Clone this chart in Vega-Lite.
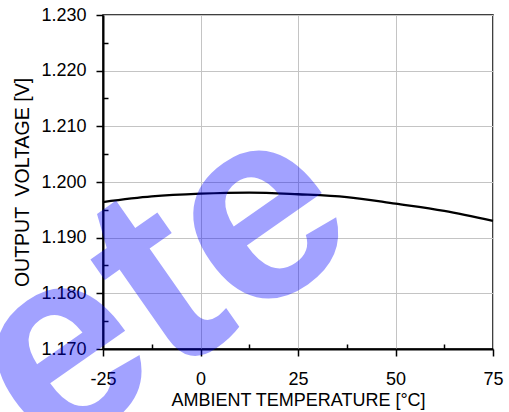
{
  "$schema": "https://vega.github.io/schema/vega-lite/v6.json",
  "width": 390,
  "height": 334,
  "autosize": {"type": "none"},
  "padding": {"left": 103, "top": 15, "right": 16, "bottom": 63},
  "background": "white",
  "config": {
    "view": {"stroke": "#000000", "strokeWidth": 1.5},
    "font": "Liberation Sans",
    "axis": {
      "labelFont": "Liberation Sans",
      "titleFont": "Liberation Sans",
      "labelColor": "#000000",
      "titleColor": "#000000",
      "titleFontWeight": "normal",
      "labelFontSize": 18,
      "titleFontSize": 18,
      "domainColor": "#000000",
      "domainWidth": 2,
      "tickColor": "#000000",
      "tickWidth": 1.5,
      "gridColor": "#c4c4c4",
      "gridWidth": 1
    }
  },
  "datasets": {
    "curve": [
      {"temp": -25, "volt": 1.1964},
      {"temp": -12.5, "volt": 1.1974},
      {"temp": 0, "volt": 1.1979},
      {"temp": 12.5, "volt": 1.1981},
      {"temp": 25, "volt": 1.1978},
      {"temp": 37.5, "volt": 1.1973},
      {"temp": 50, "volt": 1.1961},
      {"temp": 62.5, "volt": 1.1948},
      {"temp": 75, "volt": 1.1930}
    ],
    "mark": [
      {"temp": 1.5, "volt": 1.1694, "label": "ete"}
    ]
  },
  "layer": [
    {
      "data": {"name": "curve"},
      "mark": {"type": "line", "color": "#000000", "strokeWidth": 2.3, "interpolate": "monotone"},
      "encoding": {
        "x": {
          "field": "temp", "type": "quantitative",
          "scale": {"domain": [-25, 75], "nice": false, "zero": false},
          "axis": {
            "orient": "bottom",
            "values": [-25, 0, 25, 50, 75],
            "labelExpr": "datum.value < 0 ? '-' + abs(datum.value) : '' + datum.value",
            "title": "AMBIENT TEMPERATURE [°C]",
            "grid": true,
            "tickSize": 7,
            "labelPadding": 14,
            "titlePadding": 3,
            "labelFlush": false
          }
        },
        "y": {
          "field": "volt", "type": "quantitative",
          "scale": {"domain": [1.17, 1.23], "nice": false, "zero": false},
          "axis": {
            "orient": "left",
            "values": [1.17, 1.18, 1.19, 1.2, 1.21, 1.22, 1.23],
            "format": ".3f",
            "title": "OUTPUT \u00a0VOLTAGE [V]",
            "titleFontSize": 19.5,
            "grid": true,
            "tickSize": 7,
            "labelPadding": 10,
            "titlePadding": 8,
            "labelFlush": false
          }
        }
      }
    },
    {
      "data": {"name": "mark"},
      "mark": {"type": "text", "font": "Liberation Sans", "fontWeight": "bold", "fontSize": 270, "color": "#0000ff", "opacity": 0.36, "angle": 325, "align": "center", "baseline": "alphabetic"},
      "encoding": {
        "x": {
          "field": "temp", "type": "quantitative",
          "scale": {"domain": [-25, 75], "nice": false, "zero": false},
          "axis": {
            "orient": "bottom",
            "values": [-12.5, 12.5, 37.5, 62.5],
            "labels": false, "grid": false, "domain": false,
            "tickSize": -5, "title": null
          }
        },
        "y": {
          "field": "volt", "type": "quantitative",
          "scale": {"domain": [1.17, 1.23], "nice": false, "zero": false},
          "axis": {
            "orient": "left",
            "values": [1.175, 1.185, 1.195, 1.205, 1.215, 1.225],
            "labels": false, "grid": false, "domain": false,
            "tickSize": -5, "title": null
          }
        },
        "text": {"field": "label"}
      }
    }
  ],
  "resolve": {"axis": {"x": "independent", "y": "independent"}}
}
